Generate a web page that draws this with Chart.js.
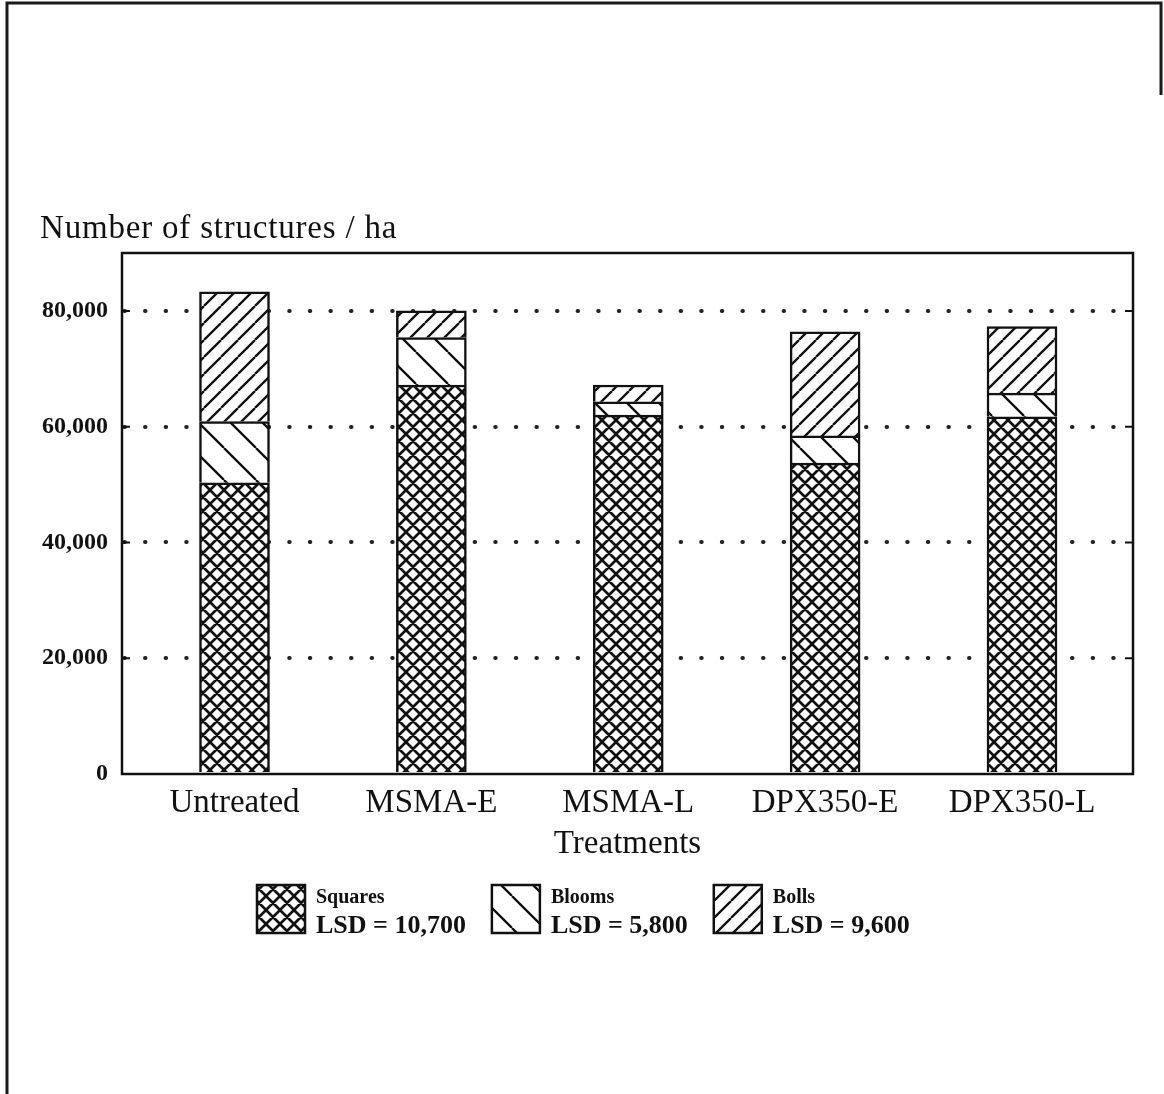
<!DOCTYPE html>
<html>
<head>
<meta charset="utf-8">
<script src="https://cdn.jsdelivr.net/npm/chart.js@4/dist/chart.umd.min.js"></script>
<style>
  html, body { margin: 0; padding: 0; background: #fff; }
  #wrap { width: 1164px; height: 1094px; position: relative; }
</style>
</head>
<body>
<div id="wrap"><canvas id="c" width="1164" height="1094"></canvas></div>
<script>
// Treatments on the x axis
const categories = ['Untreated', 'MSMA-E', 'MSMA-L', 'DPX350-E', 'DPX350-L'];
// Number of structures per hectare, stacked bottom to top
const squares = [50300, 67200, 62000, 53700, 61700];
const blooms  = [10600,  8200,  2300,  4700,  4100];
const bolls   = [22400,  4600,  2900, 18000, 11500];
const seriesNames = ['Squares', 'Blooms', 'Bolls'];
const lsdLabels = ['LSD = 10,700', 'LSD = 5,800', 'LSD = 9,600'];
const yTicks = [0, 20000, 40000, 60000, 80000];

const SERIF = "'Liberation Serif', 'Times New Roman', serif";
const INK = '#111';

// Hatch fills: cross-hatch, back-diagonal and forward-diagonal
function makePattern(kind) {
  const size = { cross: 14, back: 32, fwd: 17 }[kind];
  const c = document.createElement('canvas');
  c.width = c.height = size;
  const g = c.getContext('2d');
  g.fillStyle = '#fff';
  g.fillRect(0, 0, size, size);
  g.strokeStyle = INK;
  g.lineWidth = kind === 'cross' ? 2.7 : 2.3;
  g.beginPath();
  for (const o of [-size, 0, size]) {
    if (kind === 'fwd' || kind === 'cross') {
      g.moveTo(o, size); g.lineTo(o + size, 0);
    }
    if (kind === 'back' || kind === 'cross') {
      g.moveTo(o, 0); g.lineTo(o + size, size);
    }
  }
  g.stroke();
  return g.createPattern(c, 'repeat');
}

const ctx = document.getElementById('c').getContext('2d');
const fills = [makePattern('cross'), makePattern('back'), makePattern('fwd')];

const decorPlugin = {
  id: 'decor',
  beforeDraw(chart) {
    chart.ctx.lineCap = 'round';
  },
  afterDatasetsDraw(chart) {
    const { ctx, chartArea: a, scales } = chart;
    ctx.save();
    ctx.strokeStyle = INK;
    ctx.lineCap = 'butt';
    // plot frame
    ctx.lineWidth = 2.5;
    ctx.strokeRect(a.left, a.top, a.right - a.left, a.bottom - a.top);
    // inward tick marks on both vertical sides
    ctx.lineWidth = 2;
    ctx.beginPath();
    for (const v of yTicks) {
      if (v === 0) continue;
      const y = scales.y.getPixelForValue(v);
      ctx.moveTo(a.left, y); ctx.lineTo(a.left + 8, y);
      ctx.moveTo(a.right - 8, y); ctx.lineTo(a.right, y);
    }
    ctx.stroke();
    ctx.restore();
  },
  afterDraw(chart) {
    const { ctx, chartArea: a } = chart;
    ctx.save();
    ctx.lineCap = 'butt';
    // y-axis caption above the plot
    ctx.fillStyle = INK;
    ctx.font = `33px ${SERIF}`;
    ctx.textBaseline = 'alphabetic';
    ctx.textAlign = 'left';
    if ('letterSpacing' in ctx) ctx.letterSpacing = '0.8px';
    ctx.fillText('Number of structures / ha', 40, 238);
    if ('letterSpacing' in ctx) ctx.letterSpacing = '0px';

    // legend with hatch swatches and two text lines per entry
    let x = a.left + 135;
    const boxTop = 885, box = 48;
    chart.data.datasets.forEach((ds, i) => {
      ctx.fillStyle = ds.backgroundColor;
      ctx.fillRect(x, boxTop, box, box);
      ctx.strokeStyle = INK;
      ctx.lineWidth = 2.5;
      ctx.strokeRect(x, boxTop, box, box);
      const tx = x + box + 11;
      ctx.fillStyle = INK;
      ctx.font = `bold 20px ${SERIF}`;
      ctx.fillText(ds.label, tx, 903);
      const w1 = ctx.measureText(ds.label).width;
      ctx.font = `bold 26px ${SERIF}`;
      ctx.fillText(lsdLabels[i], tx, 933);
      const w2 = ctx.measureText(lsdLabels[i]).width;
      x = tx + Math.max(w1, w2) + 26;
    });

    // outer page frame
    ctx.strokeStyle = '#1a1a1a';
    ctx.lineWidth = 3;
    ctx.beginPath();
    ctx.moveTo(7, 1094); ctx.lineTo(7, 3); ctx.lineTo(1161, 3); ctx.lineTo(1161, 95);
    ctx.stroke();
    ctx.restore();
  }
};

new Chart(ctx, {
  type: 'bar',
  data: {
    labels: categories.map((_, i) => i),
    datasets: [
      { label: seriesNames[0], data: squares, backgroundColor: fills[0] },
      { label: seriesNames[1], data: blooms,  backgroundColor: fills[1] },
      { label: seriesNames[2], data: bolls,   backgroundColor: fills[2] }
    ]
  },
  options: {
    responsive: false,
    animation: false,
    devicePixelRatio: 1,
    layout: { padding: { left: 0, right: 31, top: 253, bottom: 220 } },
    datasets: { bar: { barThickness: 70, borderColor: INK, borderWidth: 2.5 } },
    plugins: { legend: { display: false }, tooltip: { enabled: false } },
    scales: {
      x: {
        type: 'linear',
        stacked: true,
        min: -0.5714,
        max: 4.5638,
        offset: false,
        afterBuildTicks: s => { s.ticks = categories.map((_, i) => ({ value: i })); },
        afterFit: s => { s.height = 100; },
        ticks: {
          autoSkip: false, maxRotation: 0, padding: 10, color: INK,
          font: { family: SERIF, size: 33 },
          callback: v => categories[v] ?? ''
        },
        grid: { display: false, drawTicks: false },
        border: { display: false },
        title: {
          display: true, text: 'Treatments', color: INK,
          font: { family: SERIF, size: 33 },
          padding: { top: 0, bottom: 10 }
        }
      },
      y: {
        stacked: true,
        min: 0,
        max: 90000,
        afterBuildTicks: s => { s.ticks = yTicks.map(v => ({ value: v })); },
        afterFit: s => { s.width = 122; },
        ticks: {
          padding: 14, color: INK,
          font: { family: SERIF, size: 24, weight: 'bold' },
          callback: v => v.toLocaleString('en-US')
        },
        grid: {
          drawTicks: false,
          lineWidth: 4,
          color: c => (c.tick && c.tick.value === 0) ? 'rgba(0,0,0,0)' : '#222'
        },
        border: { display: false, dash: [0.5, 20.1], dashOffset: 18.2 }
      }
    }
  },
  plugins: [decorPlugin]
});
</script>
</body>
</html>
